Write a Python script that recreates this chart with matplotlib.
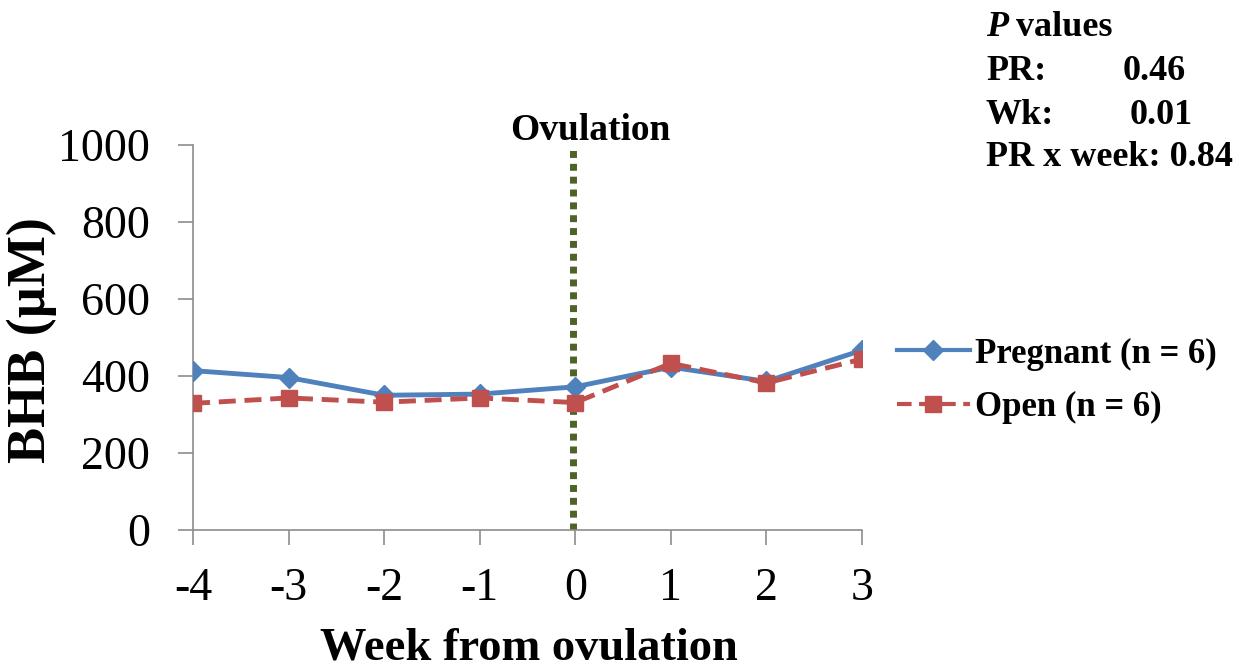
import matplotlib
matplotlib.use("Agg")
import matplotlib.pyplot as plt

weeks = [-4, -3, -2, -1, 0, 1, 2, 3]
pregnant = [414, 396, 350, 353, 372, 423, 386, 467]
open_cows = [329, 343, 332, 343, 331, 433, 382, 444]
yticks = [0, 200, 400, 600, 800, 1000]
pvalue_labels = ["PR:", "Wk:", "PR x week:"]
pvalue_values = ["0.46", "0.01", "0.84"]

plt.rcParams['font.family'] = ['Liberation Serif', 'DejaVu Serif']

fig = plt.figure(figsize=(12.47, 6.71), dpi=100)
ax = fig.add_axes([0.1548, 0.2101, 0.6913 - 0.1548, 0.7839 - 0.2101])

blue = '#4F81BD'
red = '#C0504D'
green = '#4F6228'

ax.axvline(-0.02, ymin=0, ymax=0.995, color=green, lw=5, linestyle=(0, (1.0, 0.85)), zorder=1)
ax.plot(weeks, pregnant, color=blue, lw=3.5, marker='D', ms=10, zorder=3,
        label='Pregnant (n = 6)')
ax.plot(weeks, open_cows, color=red, lw=3.5, linestyle=(0, (3.5, 1.8)), marker='s', ms=12,
        zorder=4, label='Open (n = 6)')

ax.set_xlim(-4, 3)
ax.set_ylim(0, 1000)
ax.set_xticks(weeks)
ax.set_xticklabels([str(w) for w in weeks])
ax.set_yticks(yticks)
for s in ['top', 'right']:
    ax.spines[s].set_visible(False)
for s in ['left', 'bottom']:
    ax.spines[s].set_color('#8C8C8C')
    ax.spines[s].set_linewidth(1.2)
ax.tick_params(axis='both', direction='out', color='#8C8C8C', length=11, width=1.2,
               labelsize=33)
ax.tick_params(axis='y', pad=20)
ax.tick_params(axis='x', pad=16)

ax.set_ylabel('BHB (µM)', fontsize=39, fontweight='bold')
ax.yaxis.set_label_coords(57 / 1247, 1 - 340 / 671, transform=fig.transFigure)
ax.set_xlabel('Week from ovulation', fontsize=33.5, fontweight='bold', va='center')
ax.xaxis.set_label_coords(529 / 1247, 1 - 648 / 671, transform=fig.transFigure)

ax.text(590 / 1247, 1 - 130 / 671, 'Ovulation', transform=fig.transFigure,
        ha='center', va='center', fontsize=27, fontweight='bold')

leg = ax.legend(loc='center left', bbox_to_anchor=(897 / 1247, 1 - 381 / 671),
                bbox_transform=fig.transFigure,
                frameon=False, fontsize=25, handlelength=2.1, handletextpad=0.15,
                labelspacing=0.6, borderaxespad=0, borderpad=0)
for t in leg.get_texts():
    t.set_fontweight('bold')
for h in leg.get_lines():
    h.set_linewidth(3)

fig.text(986 / 1247, 1 - 27 / 671, 'P', fontsize=26, va='center', ha='left',
         fontweight='bold', fontstyle='italic')
fig.text(1016 / 1247, 1 - 27 / 671, 'values', fontsize=26, va='center', ha='left',
         fontweight='bold')
ys = [72, 115, 158]
xs = [1123, 1130, None]
for lab, val, y, x in zip(pvalue_labels, pvalue_values, ys, xs):
    if x is None:
        fig.text(986 / 1247, 1 - y / 671, lab + ' ' + val, fontsize=26, fontweight='bold',
                 va='center', ha='left')
    else:
        fig.text(986 / 1247, 1 - y / 671, lab, fontsize=26, fontweight='bold',
                 va='center', ha='left')
        fig.text(x / 1247, 1 - y / 671, val, fontsize=26, fontweight='bold',
                 va='center', ha='left')

fig.savefig('out.png', dpi=100)
